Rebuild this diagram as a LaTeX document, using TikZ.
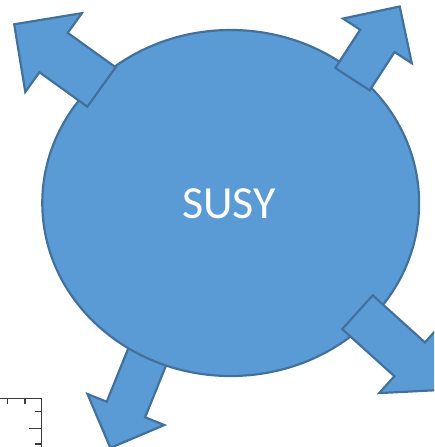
\documentclass[tikz,border=0pt]{standalone}
\usepackage{fontspec}
\setmainfont{Carlito}
\definecolor{susyfill}{HTML}{5B9BD5}
\definecolor{susyline}{HTML}{41719C}
\definecolor{rulergray}{HTML}{3A3A3A}
\tikzset{
  shapeline/.style={draw=susyline, fill=susyfill, line width=2.2pt, line join=miter},
  rulerline/.style={draw=rulergray, line width=1.1pt},
  % block arrow: #1 = shaft width, #2 = shaft length; base centred at the origin, pointing along +x
  pics/blockarrow/.style n args={2}{code={
    \path[shapeline] (0,-#1/2) -- (#2,-#1/2) -- (#2,-#1) -- ({#2+#1},0)
      -- (#2,#1) -- (#2,#1/2) -- (0,#1/2) -- cycle;
  }}
}
\begin{document}
\begin{tikzpicture}[x=1pt, y=-1pt]
  \useasboundingbox (0,0) rectangle (434,447);
  \clip (0,0) rectangle (434,447);

  % arrow tucked behind the body
  \pic[rotate=-112] at (154,340) {blockarrow={41.4}{75}};

  % main body
  \path[shapeline] (230.7,203) ellipse [x radius=188.4, y radius=173];
  \node[text=white, font=\fontsize{46}{54}\selectfont, inner sep=0pt] (susy) at (229,203.3) {SUSY};

  % arrows lying over the body
  \pic[rotate=144.3] at (101.5,87) {blockarrow={48.5}{59}};
  \pic[rotate=57] at (352.5,79.2) {blockarrow={41}{45.7}};
  \pic[rotate=-42.1] at (357.5,312.2) {blockarrow={45.5}{70.3}};

  % ruler corner
  \path[rulerline] (0,398.3) -- (41.5,398.3) -- (41.5,447);
  \path[rulerline] (7.7,398.3) -- (7.7,404);
  \path[rulerline] (25,398.3) -- (25,404);
  \path[rulerline] (41.5,411.7) -- (35,411.7);
  \path[rulerline] (41.5,428.3) -- (29.3,428.3);
  \path[rulerline] (41.5,444) -- (35,444);
\end{tikzpicture}
\end{document}
